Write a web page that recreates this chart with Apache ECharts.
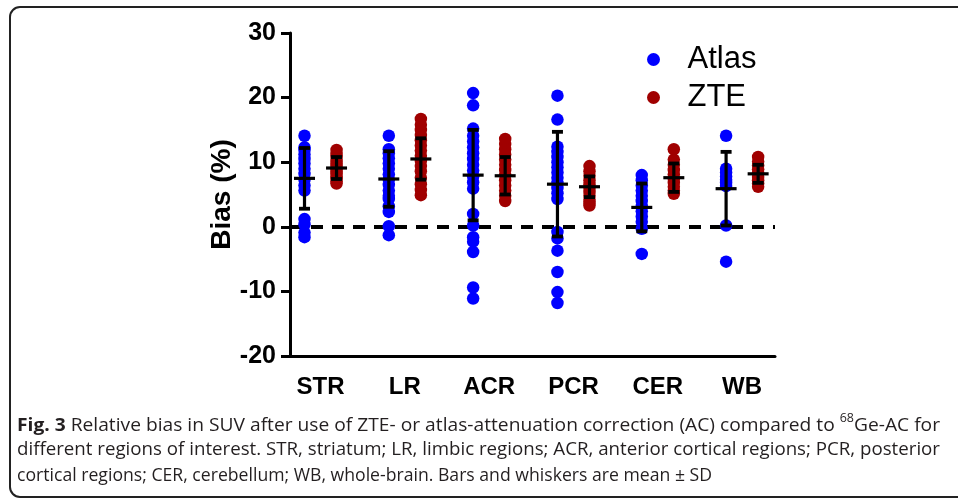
<!DOCTYPE html>
<html>
<head>
<meta charset="utf-8">
<script src="https://cdn.jsdelivr.net/npm/echarts@6/dist/echarts.min.js"></script>
<style>html,body{margin:0;padding:0;background:#fff}#c{width:958px;height:499px}</style>
</head>
<body>
<div id="c"></div>
<script>
const categories = ['STR', 'LR', 'ACR', 'PCR', 'CER', 'WB'];
const yTicks = [-20, -10, 0, 10, 20, 30];

const atlasSTR = [14.1, 12.3, 11.9, 11.2, 10.5, 9.8, 9.0, 8.2, 7.3, 6.4, 5.6, 1.2, 0.4, -0.9, -1.6];
const atlasLR  = [14.1, 12.0, 11.4, 10.6, 9.8, 9.0, 8.1, 7.3, 6.5, 5.6, 4.8, 4.3, 3.2, 2.3, 0.1, -1.3];
const atlasACR = [20.7, 18.8, 15.2, 14.1, 13.2, 12.3, 11.4, 10.5, 9.6, 8.7, 7.8, 6.9, 5.9, 2.0, 0.2, -1.6, -2.3, -3.9, -9.4, -11.1];
const atlasPCR = [20.3, 16.6, 12.4, 11.6, 10.8, 10.0, 9.2, 8.4, 7.6, 6.8, 6.0, 5.2, 4.3, -0.8, -1.8, -3.7, -7.0, -10.1, -11.8];
const atlasCER = [8.0, 7.2, 6.4, 5.6, 4.8, 4.0, 3.2, 2.4, 1.6, 0.8, -0.3, -4.2];
const atlasWB  = [14.1, 9.0, 8.4, 7.8, 7.3, 6.8, 6.3, 0.2, -5.4];

const zteSTR = [11.9, 11.3, 10.8, 10.2, 9.8, 9.4, 9.0, 8.6, 8.2, 7.8, 7.4, 7.0, 6.7];
const zteLR  = [16.7, 15.8, 15.0, 14.2, 13.4, 12.6, 11.8, 11.0, 10.2, 9.4, 8.6, 7.6, 6.6, 5.7, 4.9];
const zteACR = [13.6, 12.8, 12.0, 11.2, 10.4, 9.6, 8.8, 8.0, 7.2, 6.4, 5.6, 4.8, 4.0];
const ztePCR = [9.4, 8.6, 7.9, 7.2, 6.6, 6.0, 5.4, 4.8, 4.2, 3.7, 3.3];
const zteCER = [12.0, 10.4, 9.6, 8.8, 8.1, 7.4, 6.8, 6.2, 5.6, 5.1];
const zteWB  = [10.8, 10.1, 9.5, 8.9, 8.3, 7.7, 7.2, 6.7, 6.2];

const atlasMean = [7.5, 7.4, 8.0, 6.6, 3.0, 5.9];
const atlasSD   = [4.7, 4.3, 7.0, 8.1, 3.7, 5.7];
const zteMean   = [9.1, 10.5, 7.9, 6.2, 7.6, 8.2];
const zteSD     = [1.7, 3.2, 2.9, 1.6, 2.2, 1.4];

const captionBold = 'Fig. 3';
const caption1a = ' Relative bias in SUV after use of ZTE- or atlas-attenuation correction (AC) compared to ';
const captionSup = '68';
const caption1b = 'Ge-AC for';
const caption2 = 'different regions of interest. STR, striatum; LR, limbic regions; ACR, anterior cortical regions; PCR, posterior';
const caption3 = 'cortical regions; CER, cerebellum; WB, whole-brain. Bars and whiskers are mean \u00b1 SD';

const atlasGroups = [atlasSTR, atlasLR, atlasACR, atlasPCR, atlasCER, atlasWB];
const zteGroups = [zteSTR, zteLR, zteACR, ztePCR, zteCER, zteWB];
const OFF = 0.19;

function pts(groups, off) {
  const out = [];
  groups.forEach((g, i) => g.forEach(v => out.push([i + off, v])));
  return out;
}
function bars(means, sds, off) {
  return means.map((m, i) => [i + off, m, sds[i]]);
}

function renderErr(params, api) {
  const x = api.value(0), m = api.value(1), sd = api.value(2);
  const c = api.coord([x, m]);
  const hi = api.coord([x, m + sd]);
  const lo = api.coord([x, m - sd]);
  return {
    type: 'group',
    children: [
      { type: 'line', shape: { x1: c[0], y1: hi[1], x2: c[0], y2: lo[1] }, style: { stroke: '#000', lineWidth: 3.2 } },
      { type: 'line', shape: { x1: c[0] - 5.5, y1: hi[1], x2: c[0] + 5.5, y2: hi[1] }, style: { stroke: '#000', lineWidth: 3.8 } },
      { type: 'line', shape: { x1: c[0] - 5.5, y1: lo[1], x2: c[0] + 5.5, y2: lo[1] }, style: { stroke: '#000', lineWidth: 3.8 } },
      { type: 'line', shape: { x1: c[0] - 10.5, y1: c[1], x2: c[0] + 10.5, y2: c[1] }, style: { stroke: '#000', lineWidth: 3.2 } }
    ]
  };
}

const FONT = '"Liberation Sans", Arial, sans-serif';
const CAP = '"Open Sans", sans-serif';
const CS = 18.5;
const SUPS = 12;
const mctx = document.createElement('canvas').getContext('2d');
function tw(t, size, weight) { mctx.font = (weight || 'normal') + ' ' + size + 'px ' + CAP; return mctx.measureText(t).width; }
const w1 = tw(captionBold, CS, 'bold') + tw(caption1a, CS) + tw(captionSup, SUPS) + tw(caption1b, CS);
const s1 = 923 / w1;
const s2 = 923 / tw(caption2, CS);
const s3 = 695 / tw(caption3, CS);

const chart = echarts.init(document.getElementById('c'), null, { renderer: 'canvas' });
chart.setOption({
  animation: false,
  backgroundColor: '#fff',
  grid: { left: 290, right: 183, top: 33, bottom: 143 },
  legend: {
    data: ['Atlas', 'ZTE'],
    orient: 'vertical',
    left: 642,
    top: 39,
    icon: 'circle',
    itemWidth: 58,
    itemHeight: 13,
    itemGap: 7,
    textStyle: { fontFamily: FONT, fontSize: 31, color: '#000', lineHeight: 31 }
  },
  xAxis: {
    type: 'value',
    min: -0.362,
    max: 5.39,
    splitLine: { show: false },
    axisLine: { show: true, onZero: false, lineStyle: { color: '#000', width: 3 } },
    axisTick: { show: false },
    axisLabel: {
      customValues: [0, 1, 2, 3, 4, 5],
      formatter: v => categories[Math.round(v)],
      fontFamily: FONT, fontWeight: 'bold', fontSize: 24, color: '#000', margin: 19
    }
  },
  yAxis: {
    type: 'value',
    min: -20,
    max: 30,
    interval: 10,
    name: 'Bias (%)',
    nameLocation: 'middle',
    nameGap: 54,
    nameMoveOverlap: false,
    nameTextStyle: { fontFamily: FONT, fontWeight: 'bold', fontSize: 28, color: '#000' },
    splitLine: { show: false },
    axisLine: { show: true, onZero: false, lineStyle: { color: '#000', width: 3 } },
    axisTick: { show: true, length: 9, lineStyle: { color: '#000', width: 3 } },
    axisLabel: {
      formatter: v => (yTicks.indexOf(v) >= 0 ? String(v) : ''),
      fontFamily: FONT, fontWeight: 'bold', fontSize: 25, color: '#000', margin: 14
    }
  },
  series: [
    {
      name: 'Atlas', type: 'scatter', symbol: 'circle', symbolSize: 12.5,
      itemStyle: { color: '#0000FF', opacity: 1 },
      data: pts(atlasGroups, -OFF), z: 3,
      markLine: {
        silent: true, symbol: 'none', label: { show: false },
        lineStyle: { color: '#000', type: [12, 9], width: 3.8 },
        data: [{ yAxis: 0 }], z: 2
      }
    },
    {
      name: 'ZTE', type: 'scatter', symbol: 'circle', symbolSize: 12.5,
      itemStyle: { color: '#A00000', opacity: 1 },
      data: pts(zteGroups, OFF), z: 3
    },
    { type: 'custom', renderItem: renderErr, data: bars(atlasMean, atlasSD, -OFF), z: 5, silent: true },
    { type: 'custom', renderItem: renderErr, data: bars(zteMean, zteSD, OFF), z: 5, silent: true }
  ],
  graphic: [
    { type: 'rect', shape: { x: 10, y: 7, width: 970, height: 490, r: 10 }, style: { fill: 'none', stroke: '#222', lineWidth: 2 }, silent: true },
    {
      type: 'text', x: 17, y: 413, scaleX: s1,
      style: {
        text: '{b|' + captionBold + '}' + caption1a + '{sup|' + captionSup + '}' + caption1b,
        fontFamily: CAP, fontSize: CS, fill: '#231F20',
        rich: {
          b: { fontFamily: CAP, fontSize: CS, fontWeight: 'bold', fill: '#231F20' },
          sup: { fontFamily: CAP, fontSize: SUPS, fill: '#231F20', verticalAlign: 'top', lineHeight: 26 }
        }
      }
    },
    {
      type: 'text', x: 17, y: 440, scaleX: s2,
      style: { text: caption2, fontFamily: CAP, fontSize: CS, fill: '#231F20' }
    },
    {
      type: 'text', x: 17, y: 466, scaleX: s3,
      style: { text: caption3, fontFamily: CAP, fontSize: CS, fill: '#231F20' }
    }
  ]
});
</script>
</body>
</html>
